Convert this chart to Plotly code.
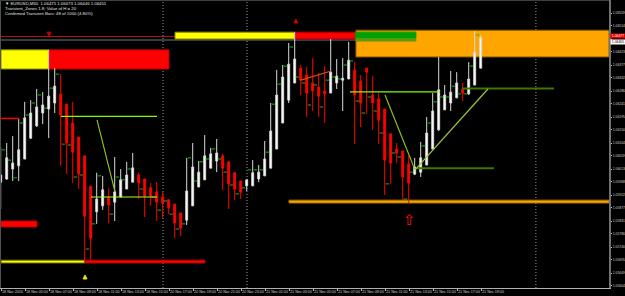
import plotly.graph_objects as go

# EURUSD M30 candles, one entry per bar, in 1e-5 price points
open_pts = [105967,105978,106013,106024,106048,106121,106164,106209,106223,106244,
            106275,106240,106174,106125,106059,105953,105863,105884,105912,105897,
            105915,105943,105967,105992,105978,105947,105933,105915,105905,105890,
            105859,105834,105884,105950,105975,106016,106041,106059,106038,106000,
            105971,105954,105954,105978,105989,106016,106083,106174,106254,106314,
            106366,106342,106314,106300,106286,106279,106314,106324,106328,106359,
            106321,106366,106272,106258,106223,106136,106083,106076,106031,105995,
            106002,106027,106083,106150,106220,106244,106262,106293,106276,106307,106366]
high_pts = [106090,106104,106128,106188,106248,106254,106293,106282,106430,106366,
            106345,106240,106248,106125,106059,105953,106000,105989,105947,106055,
            106013,106038,106069,106000,105978,105964,105967,105933,105905,105890,
            105859,106052,106104,106041,106132,106087,106118,106066,106038,106000,
            105971,105975,106044,106027,106111,106244,106360,106377,106454,106492,
            106377,106370,106401,106349,106373,106468,106398,106401,106458,106387,
            106342,106366,106338,106279,106223,106136,106104,106076,106059,106052,
            106108,106195,106279,106405,106307,106356,106352,106314,106387,106496,106482]
low_pts = [105873,105975,105971,105971,106048,106118,106160,106170,106121,106209,
           106024,105996,105964,105943,105691,105698,105821,105870,105824,105831,
           105915,105943,105967,105908,105845,105884,105831,105841,105855,105771,
           105778,105817,105884,105950,105975,106016,106002,105940,105873,105905,
           105908,105936,105954,105967,105989,106016,106083,106174,106244,106314,
           106272,106195,106216,106195,106174,106279,106293,106216,106328,106100,
           106160,106206,106150,106100,105922,105961,106034,105905,105894,105992,
           105985,106027,106083,106146,106220,106216,106262,106251,106272,106307,106366]
close_pts = [105992,106052,106034,106080,106192,106209,106230,106237,106268,106303,
             106202,106104,106072,105996,105848,105771,105908,105940,105887,105933,
             105975,105992,106017,105964,105918,105918,105897,105894,105876,105824,
             105806,105936,106020,106002,106059,106066,106069,106016,105961,105943,
             105932,105975,106000,106002,106048,106146,106272,106335,106380,106398,
             106324,106279,106286,106268,106276,106352,106338,106331,106394,106272,
             106244,106352,106244,106184,106044,106034,106069,105985,105964,106020,
             106052,106139,106216,106290,106272,106282,106314,106279,106328,106422,106472]

# Per-bar buffer dashes of the transient indicator
dash_pts = [106080,106044,105982,106174,106202,106244,106272,106226,106296,106345,
            106100,106097,105985,105992,105733,105821,105989,None,105855,105985,
            105975,106013,None,105943,None,105915,105869,105901,105855,105803,
            105821,106052,105971,106038,106048,106083,106048,106002,105957,105926,
            105947,106010,106010,106010,106072,106240,106310,106373,106440,106335,
            106314,106237,106307,106230,106324,106335,106328,106377,106391,106251,
            106209,106265,106216,106139,105961,106069,106055,105908,106002,None,
            106094,106174,106248,106265,106265,106303,106276,106276,106373,106482,None]

# Time and price axis
time_tick_bars = [0.05 + 4 * k for k in range(21)]
time_labels = ["18 Nov 2016", "18 Nov 05:00", "18 Nov 07:00", "18 Nov 09:00", "18 Nov 11:00",
               "18 Nov 13:00", "18 Nov 15:00", "20 Nov 17:00", "20 Nov 19:00", "20 Nov 21:00",
               "20 Nov 23:00", "21 Nov 01:00", "21 Nov 03:00", "21 Nov 05:00", "21 Nov 07:00",
               "21 Nov 09:00", "21 Nov 11:00", "21 Nov 13:00", "21 Nov 15:00", "21 Nov 17:00",
               "21 Nov 19:00"]
price_ticks = [1.06559, 1.06514, 1.06468, 1.06423, 1.06377, 1.06332, 1.06286, 1.06241,
               1.06195, 1.06150, 1.06104, 1.06059, 1.06013, 1.05968, 1.05922, 1.05877,
               1.05831, 1.05786, 1.05740, 1.05695, 1.05649, 1.05604]
hidden_price_tick = 1.06468  # sits under the live price tags
bar_range = [-0.117, 101.383]
price_range = [1.055965, 1.066045]

# Transient zones: start bar, end bar, upper and lower price points
zone_start = [0.05, 8.05, 0.05, 0.05, 14.05, 29.05, 49.05, 59.2, 59.2, 59.2, 48.05]
zone_end = [8.05, 28.05, 6.05, 14.05, 34.05, 49.05, 59.2, 101.4, 69.2, 69.2, 101.4]
zone_top = [106430, 106430, 105831, 105694, 105694, 106492, 106492, 106499, 106492, 106468, 105904]
zone_bottom = [106363, 106363, 105810, 105684, 105684, 106468, 106468, 106405, 106471, 106461, 105894]
zone_fill = ["#ffff00", "#ff0000", "#ff0000", "#ffff00", "#ff0000", "#ffff00", "#ff0000",
             "#ffa500", "#00a000", "#5a9a10", "#ffa500"]
zone_edge = ["#8a8a00", "#b00000", "#b00000", "#6a6a00", "#b00000", "#8a8a00", "#b00000",
             "#7a5200", "#00a000", "#5a9a10", "#a87000"]

# Support and resistance segments and the fractal legs
segment_x0 = [0.05, 10.05, 15.05, 58.2, 76.9, 69.4, 16.05, 64.05, 69.05, 50.05]
segment_x1 = [3.05, 26.05, 26.05, 73.2, 92.2, 82.2, 19.05, 69.05, 81.2, 55.05]
segment_p0 = [106190, 106197, 105915, 106283, 106295, 106016, 106185, 106272, 106010, 106324]
segment_p1 = [106190, 106197, 105915, 106283, 106295, 106016, 105933, 106010, 106293, 106356]
segment_color = ["#ff0000", "#7fff00", "#adff2f", "#7fff00", "#3a7a00", "#3a7a00",
                 "#8fc31f", "#8fc31f", "#9acd32", "#e05000"]
segment_width = [1.5, 1.2, 1.2, 1.2, 2, 2, 1.2, 1.2, 1.2, 1.2]

separator_bars = [27.05, 41.05, 89.2]
bid_price, ask_price = 1.06477, 1.064645

# Signal arrows: bar, price points
arrow_down_bar, arrow_down_pts = 8.05, 106478
arrow_top_bar, arrow_top_pts = 49.2, 106538
arrow_yellow_bar, arrow_yellow_pts = 14.05, 105642
arrow_open_bar, arrow_open_pts = 68.2, 105835

bars = list(range(len(open_pts)))
scale = lambda values: [None if v is None else v / 1e5 for v in values]

fig = go.Figure()

fig.add_trace(go.Candlestick(
    x=bars, open=scale(open_pts), high=scale(high_pts), low=scale(low_pts), close=scale(close_pts),
    increasing=dict(line=dict(color="#d8d8d8", width=1), fillcolor="#ffffff"),
    decreasing=dict(line=dict(color="#ff0000", width=1), fillcolor="#ff0000"),
    whiskerwidth=0, showlegend=False,
))

fig.add_trace(go.Scatter(
    x=[b + 0.45 for b in bars], y=scale(dash_pts), mode="markers", showlegend=False,
    marker=dict(symbol="line-ew", size=2.5, line=dict(color="#18b818", width=1)),
))

# Arrow signals
fig.add_trace(go.Scatter(
    x=[arrow_down_bar, arrow_top_bar], y=scale([arrow_down_pts, arrow_top_pts]),
    mode="markers", showlegend=False,
    marker=dict(symbol=["arrow-down", "arrow-up"], size=4, color="#cc0000",
                line=dict(color="#cc0000", width=1)),
))
fig.add_trace(go.Scatter(
    x=[arrow_yellow_bar], y=scale([arrow_yellow_pts]), mode="markers", showlegend=False,
    marker=dict(symbol="arrow-up", size=4, color="#f0e000", line=dict(color="#f0e000", width=1)),
))

shapes = []
# Zones sit behind the candles
for x0, x1, top, bottom, fill, edge in zip(zone_start, zone_end, zone_top, zone_bottom, zone_fill, zone_edge):
    shapes.append(dict(type="rect", xref="x", yref="y", x0=x0, x1=x1, y0=bottom / 1e5, y1=top / 1e5,
                       fillcolor=fill, line=dict(color=edge, width=1), layer="below"))
# Bid and ask lines
shapes.append(dict(type="line", xref="paper", yref="y", x0=0, x1=1, y0=bid_price, y1=bid_price,
                   line=dict(color="#c01010", width=1), layer="below"))
shapes.append(dict(type="line", xref="paper", yref="y", x0=0, x1=1, y0=ask_price, y1=ask_price,
                   line=dict(color="#6a7a88", width=1), layer="below"))
# Period separators
for b in separator_bars:
    shapes.append(dict(type="line", xref="x", yref="paper", x0=b, x1=b, y0=0, y1=1,
                       line=dict(color="#a0a0a0", width=1, dash="1px,2px"), layer="below"))
for x0, x1, p0, p1, color, width in zip(segment_x0, segment_x1, segment_p0, segment_p1, segment_color, segment_width):
    shapes.append(dict(type="line", xref="x", yref="y", x0=x0, x1=x1, y0=p0 / 1e5, y1=p1 / 1e5,
                       line=dict(color=color, width=width)))
# Chart frame on the left and top
shapes.append(dict(type="line", xref="paper", yref="paper", x0=0, x1=0, y0=0, y1=1,
                   line=dict(color="#505050", width=2)))
shapes.append(dict(type="line", xref="paper", yref="paper", x0=0, x1=1, y0=1, y1=1,
                   line=dict(color="#404040", width=2)))

header_font = dict(family="Liberation Sans", size=4.3, color="#e0e0e0")
annotations = [
    dict(xref="paper", yref="paper", x=0.005, y=0.9875, xanchor="left", yanchor="middle", showarrow=False,
         align="left", font=header_font, text="▼ EURUSD,M30  1.06475 1.06473 1.06446 1.06451"),
    dict(xref="paper", yref="paper", x=0.005, y=0.9705, xanchor="left", yanchor="middle", showarrow=False,
         align="left", font=header_font, text="Transient_Zones 1.8; Value of H = 20"),
    dict(xref="paper", yref="paper", x=0.005, y=0.9535, xanchor="left", yanchor="middle", showarrow=False,
         align="left", font=header_font, text="Confirmed Transient Bars: 48 of 1000 (4.80%)"),
    dict(x=arrow_open_bar, y=arrow_open_pts / 1e5, xref="x", yref="y", showarrow=False, text="⇧",
         font=dict(family="DejaVu Sans", size=15, color="#ff1010")),
    # Live bid and ask price tags on the axis
    dict(xref="paper", yref="y", x=1.001, y=bid_price + 0.000015, xanchor="left", yanchor="middle", showarrow=False,
         text=f"{bid_price:.5f}", bgcolor="#e00000", borderpad=0, height=4,
         font=dict(family="Liberation Sans", size=3.4, color="#ffffff"), width=14),
    dict(xref="paper", yref="y", x=1.001, y=ask_price - 0.00006, xanchor="left", yanchor="middle", showarrow=False,
         text=f"{ask_price:.5f}", bgcolor="#ffffff", borderpad=0, height=4,
         font=dict(family="Liberation Sans", size=3.4, color="#000000"), width=14),
]

fig.update_layout(
    width=625, height=296, margin=dict(l=0, r=16, t=0, b=8),
    paper_bgcolor="#000000", plot_bgcolor="#000000",
    boxgap=0.55, showlegend=False, shapes=shapes, annotations=annotations,
    xaxis=dict(range=bar_range, rangeslider=dict(visible=False), showgrid=False, zeroline=False,
               automargin=False,
               tickmode="array", tickvals=time_tick_bars, ticktext=time_labels,
               ticks="outside", ticklen=2, tickcolor="#c0c0c0", tickwidth=1, tickangle=0,
               ticklabelposition="outside right",
               tickfont=dict(family="Liberation Sans", size=3.7, color="#d0d0d0"),
               showline=True, linecolor="#b0b0b0", linewidth=1),
    yaxis=dict(range=price_range, side="right", showgrid=False, zeroline=False,
               automargin=False,
               tickmode="array", tickvals=price_ticks,
               ticktext=["" if p == hidden_price_tick else f"{p:.5f}" for p in price_ticks],
               ticks="outside", ticklen=1, tickcolor="#c0c0c0", tickwidth=1,
               tickfont=dict(family="Liberation Sans", size=3.4, color="#d0d0d0"),
               showline=True, linecolor="#707070", linewidth=2),
)

fig.write_html("out.html", config=dict(displayModeBar=False))
